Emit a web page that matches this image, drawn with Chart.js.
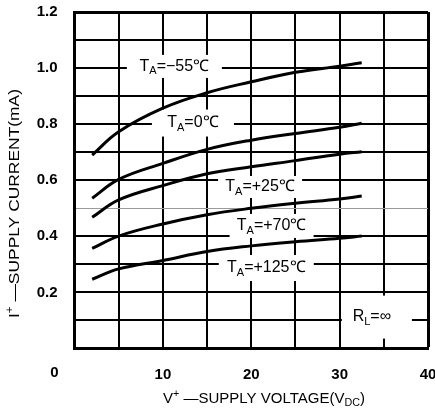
<!DOCTYPE html>
<html>
<head>
<meta charset="utf-8">
<script src="https://cdn.jsdelivr.net/npm/chart.js@4.4.1/dist/chart.umd.min.js"></script>
<style>
  html, body { margin: 0; padding: 0; background: #fff; }
  #wrap { width: 435px; height: 420px; }
</style>
</head>
<body>
<div id="wrap"><canvas id="chart" width="435" height="420"></canvas></div>
<script>
// supply voltage (V) where each curve was read
const voltage = [2, 5, 10, 15, 20, 25, 30, 32.5];

// supply current (mA) per ambient temperature
const currentM55 = [0.69, 0.773, 0.857, 0.912, 0.951, 0.985, 1.007, 1.019];
const current0 = [0.536, 0.603, 0.660, 0.710, 0.743, 0.767, 0.789, 0.803];
const current25 = [0.468, 0.530, 0.581, 0.623, 0.648, 0.670, 0.693, 0.702];
const current70 = [0.357, 0.401, 0.444, 0.477, 0.500, 0.518, 0.533, 0.544];
const current125 = [0.247, 0.284, 0.314, 0.346, 0.366, 0.381, 0.393, 0.401];

const tempLabels = ['\u221255', '0', '+25', '+70', '+125'];
const xTickLabels = [0, 10, 20, 30, 40];
const yTickLabels = [0.2, 0.4, 0.6, 0.8, 1.0, 1.2];

const series = [currentM55, current0, current25, current70, current125];

// where the curve names sit (data units) and their white boxes (px)
const labelPlaces = [
  { x: 11.3, y: 1.006, w: 95, h: 23 },
  { x: 13.4, y: 0.804, w: 82, h: 27 },
  { x: 21.0, y: 0.576, w: 84, h: 22 },
  { x: 22.3, y: 0.437, w: 84, h: 24 },
  { x: 21.7, y: 0.287, w: 95, h: 26 }
];
const loadPlace = { x: 33.65, y: 0.112, w: 70, h: 43, dx: 5 };

const FONT = 'Liberation Sans, Arial, sans-serif';

function near(a, b) { return Math.abs(a - b) < 1e-6; }

// draw text made of parts, some sub/superscript, centred on cx,cy,
// squeezed or stretched to a width when one is given
function richText(ctx, parts, cx, cy, size, weight, width) {
  const small = Math.round(size * 0.68);
  let total = 0;
  parts.forEach(p => {
    ctx.font = weight + ' ' + (p.sub || p.sup ? small : size) + 'px ' + FONT;
    p.w = ctx.measureText(p.t).width;
    total += p.w;
  });
  const k = width ? width / total : 1;
  ctx.save();
  ctx.translate(cx, cy);
  ctx.scale(k, 1);
  let x = -total / 2;
  ctx.textBaseline = 'middle';
  ctx.textAlign = 'left';
  parts.forEach(p => {
    ctx.font = weight + ' ' + (p.sub || p.sup ? small : size) + 'px ' + FONT;
    let y = 0;
    if (p.sub) y = size * 0.3;
    if (p.sup) y = -size * 0.35;
    ctx.fillText(p.t, x, y);
    x += p.w;
  });
  ctx.restore();
}

const textPlugin = {
  id: 'textPlugin',
  beforeDatasetsDraw(chart) {
    const ctx = chart.ctx;
    const xs = chart.scales.x, ys = chart.scales.y;
    ctx.save();
    labelPlaces.forEach((p, i) => {
      const cx = xs.getPixelForValue(p.x), cy = ys.getPixelForValue(p.y);
      ctx.fillStyle = '#fff';
      ctx.fillRect(cx - p.w / 2, cy - p.h / 2, p.w, p.h);
      ctx.fillStyle = '#000';
      richText(ctx, [{ t: 'T' }, { t: 'A', sub: true }, { t: '=' + tempLabels[i] + '\u2103' }], cx, cy, 16, 'normal');
    });
    const lx = xs.getPixelForValue(loadPlace.x), ly = ys.getPixelForValue(loadPlace.y);
    ctx.fillStyle = '#fff';
    ctx.fillRect(lx + loadPlace.dx - loadPlace.w / 2, ly - loadPlace.h / 2, loadPlace.w, loadPlace.h);
    ctx.fillStyle = '#000';
    richText(ctx, [{ t: 'R' }, { t: 'L', sub: true }, { t: '=\u221E' }], lx, ly, 16, 'normal');
    ctx.restore();
  },
  afterDraw(chart) {
    const ctx = chart.ctx;
    const xs = chart.scales.x;
    ctx.save();
    ctx.fillStyle = '#000';
    // the "0" of the x axis sits left of the corner in the original
    ctx.font = 'bold 15px ' + FONT;
    ctx.textAlign = 'center';
    ctx.textBaseline = 'middle';
    ctx.fillText(String(xTickLabels[0]), xs.getPixelForValue(0) - 20, 373);
    // x title
    richText(ctx, [{ t: 'V' }, { t: '+', sup: true }, { t: ' \u2014SUPPLY VOLTAGE(V' }, { t: 'DC', sub: true }, { t: ')' }],
      264, 399, 14, 'normal', 202);
    // y title
    ctx.translate(15, 203.5);
    ctx.rotate(-Math.PI / 2);
    richText(ctx, [{ t: 'I' }, { t: '+', sup: true }, { t: ' \u2014SUPPLY CURRENT(mA)' }], 0, 0, 15, 'normal', 229);
    ctx.restore();
  }
};

const datasets = series.map((vals, i) => ({
  label: 'TA=' + tempLabels[i] + '\u2103',
  data: voltage.map((v, k) => ({ x: v, y: vals[k] })),
  borderColor: '#000',
  borderWidth: 3,
  pointRadius: 0,
  fill: false,
  tension: 0.4
}));

new Chart(document.getElementById('chart'), {
  type: 'line',
  data: { datasets: datasets },
  options: {
    responsive: false,
    animation: false,
    devicePixelRatio: 1,
    layout: { padding: { left: 0, right: 7, top: 12, bottom: 0 } },
    plugins: { legend: { display: false }, tooltip: { enabled: false } },
    scales: {
      x: {
        type: 'linear',
        min: 0,
        max: 40,
        afterFit(s) { s.height = 71.5; s.paddingLeft = 0; s.paddingRight = 0; },
        ticks: {
          stepSize: 5,
          autoSkip: false,
          maxRotation: 0,
          padding: 17,
          color: '#000',
          font: { family: FONT, size: 15, weight: 'bold' },
          callback: v => (xTickLabels.includes(v) && v !== 0) ? String(v) : ''
        },
        grid: {
          color: '#000',
          lineWidth: c => near(c.tick.value, 40) ? 3 : 2,
          drawTicks: false
        },
        border: { display: true, color: '#000', width: 3 }
      },
      y: {
        min: 0,
        max: 1.2,
        afterFit(s) { s.width = 74.5; s.paddingTop = 0; s.paddingBottom = 0; },
        ticks: {
          stepSize: 0.1,
          autoSkip: false,
          padding: 17,
          color: '#000',
          font: { family: FONT, size: 15, weight: 'bold' },
          callback: v => yTickLabels.some(t => near(t, v)) ? v.toFixed(1) : ''
        },
        grid: {
          color: c => near(c.tick.value, 0.5) ? '#9a9a9a' : '#000',
          lineWidth: c => near(c.tick.value, 1.2) ? 3 : (near(c.tick.value, 0.5) ? 1 : 2),
          drawTicks: false
        },
        border: { display: true, color: '#000', width: 3 }
      }
    }
  },
  plugins: [textPlugin]
});
</script>
</body>
</html>
